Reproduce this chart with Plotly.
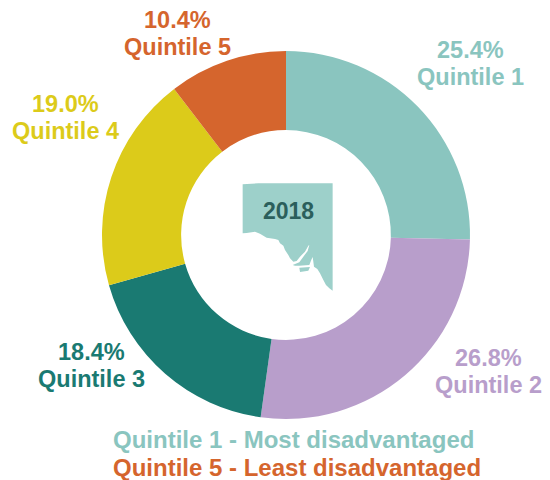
import plotly.graph_objects as go

categories = ["Quintile 1", "Quintile 2", "Quintile 3", "Quintile 4", "Quintile 5"]
values = [25.4, 26.8, 18.4, 19.0, 10.4]
colors = ["#8AC5BF", "#B89ECB", "#1A7A72", "#DCCB1A", "#D5652D"]
label_x = [470, 488.5, 91, 65.5, 177]
label_y = [50, 358, 352, 104, 20]
year = "2018"
note_lines = ["Quintile 1 - Most disadvantaged", "Quintile 5 - Least disadvantaged"]

W, H = 550, 480
px = lambda x: x / W
py = lambda y: 1 - y / H

fig = go.Figure(go.Pie(
    labels=categories, values=values, sort=False, direction="clockwise", rotation=0,
    hole=0.57, textinfo="none", showlegend=False,
    marker=dict(colors=colors, line=dict(width=0)),
    domain=dict(x=[px(102), px(470)], y=[py(419), py(51)]),
))

# State outline decoration behind the year (zoomed-crop coordinates)
mainland = [(8,-122),(55,-125),(278,-125),(278,197),(268,190),(258,180),(250,165),(240,145),
            (232,132),(222,125),(220,110),(218,96),(214,104),(208,120),(178,122),(165,122),(158,120),
            (178,112),(190,95),(203,78),(208,60),(205,62),(195,80),(180,95),(170,108),(160,110),
            (150,100),(145,90),(135,75),(130,62),(120,55),(115,45),(105,42),(80,38),(60,26),(45,20),
            (20,24),(8,25)]
island = [(178,128),(210,126),(205,137),(180,141)]
def subpath(points):
    return "M " + " L ".join(f"{px(240+a/3):.4f},{py(225+b/3):.4f}" for a, b in points) + " Z"
path = subpath(mainland) + " " + subpath(island)

annotations = []
font = "Liberation Sans"
def add(text, x, y, color, size=23.5):
    annotations.append(dict(text=f"<b>{text}</b>", x=px(x), y=py(y), xref="paper", yref="paper",
                            showarrow=False, xanchor="center", yanchor="middle",
                            font=dict(family=font, size=size, color=color)))

for c, v, col, x, y in zip(categories, values, colors, label_x, label_y):
    add(f"{v:.1f}%", x, y, col)
    add(c, x, y + 27, col)
add(note_lines[0], 293, 439, colors[0], 24)
add(note_lines[1], 297, 467, colors[4], 24)
add(year, 288, 211, "#2B5F5C", 23)

fig.update_layout(
    width=W, height=H, margin=dict(l=0, r=0, t=0, b=0),
    paper_bgcolor="white", plot_bgcolor="white", showlegend=False,
    shapes=[dict(type="path", path=path, xref="paper", yref="paper",
                 fillcolor="#9DD0CA", line=dict(width=0), layer="below")],
    annotations=annotations,
)
fig.write_html("out.html", config={"displayModeBar": False},
               post_script="document.body.style.margin='0';document.documentElement.style.overflow='hidden';")
